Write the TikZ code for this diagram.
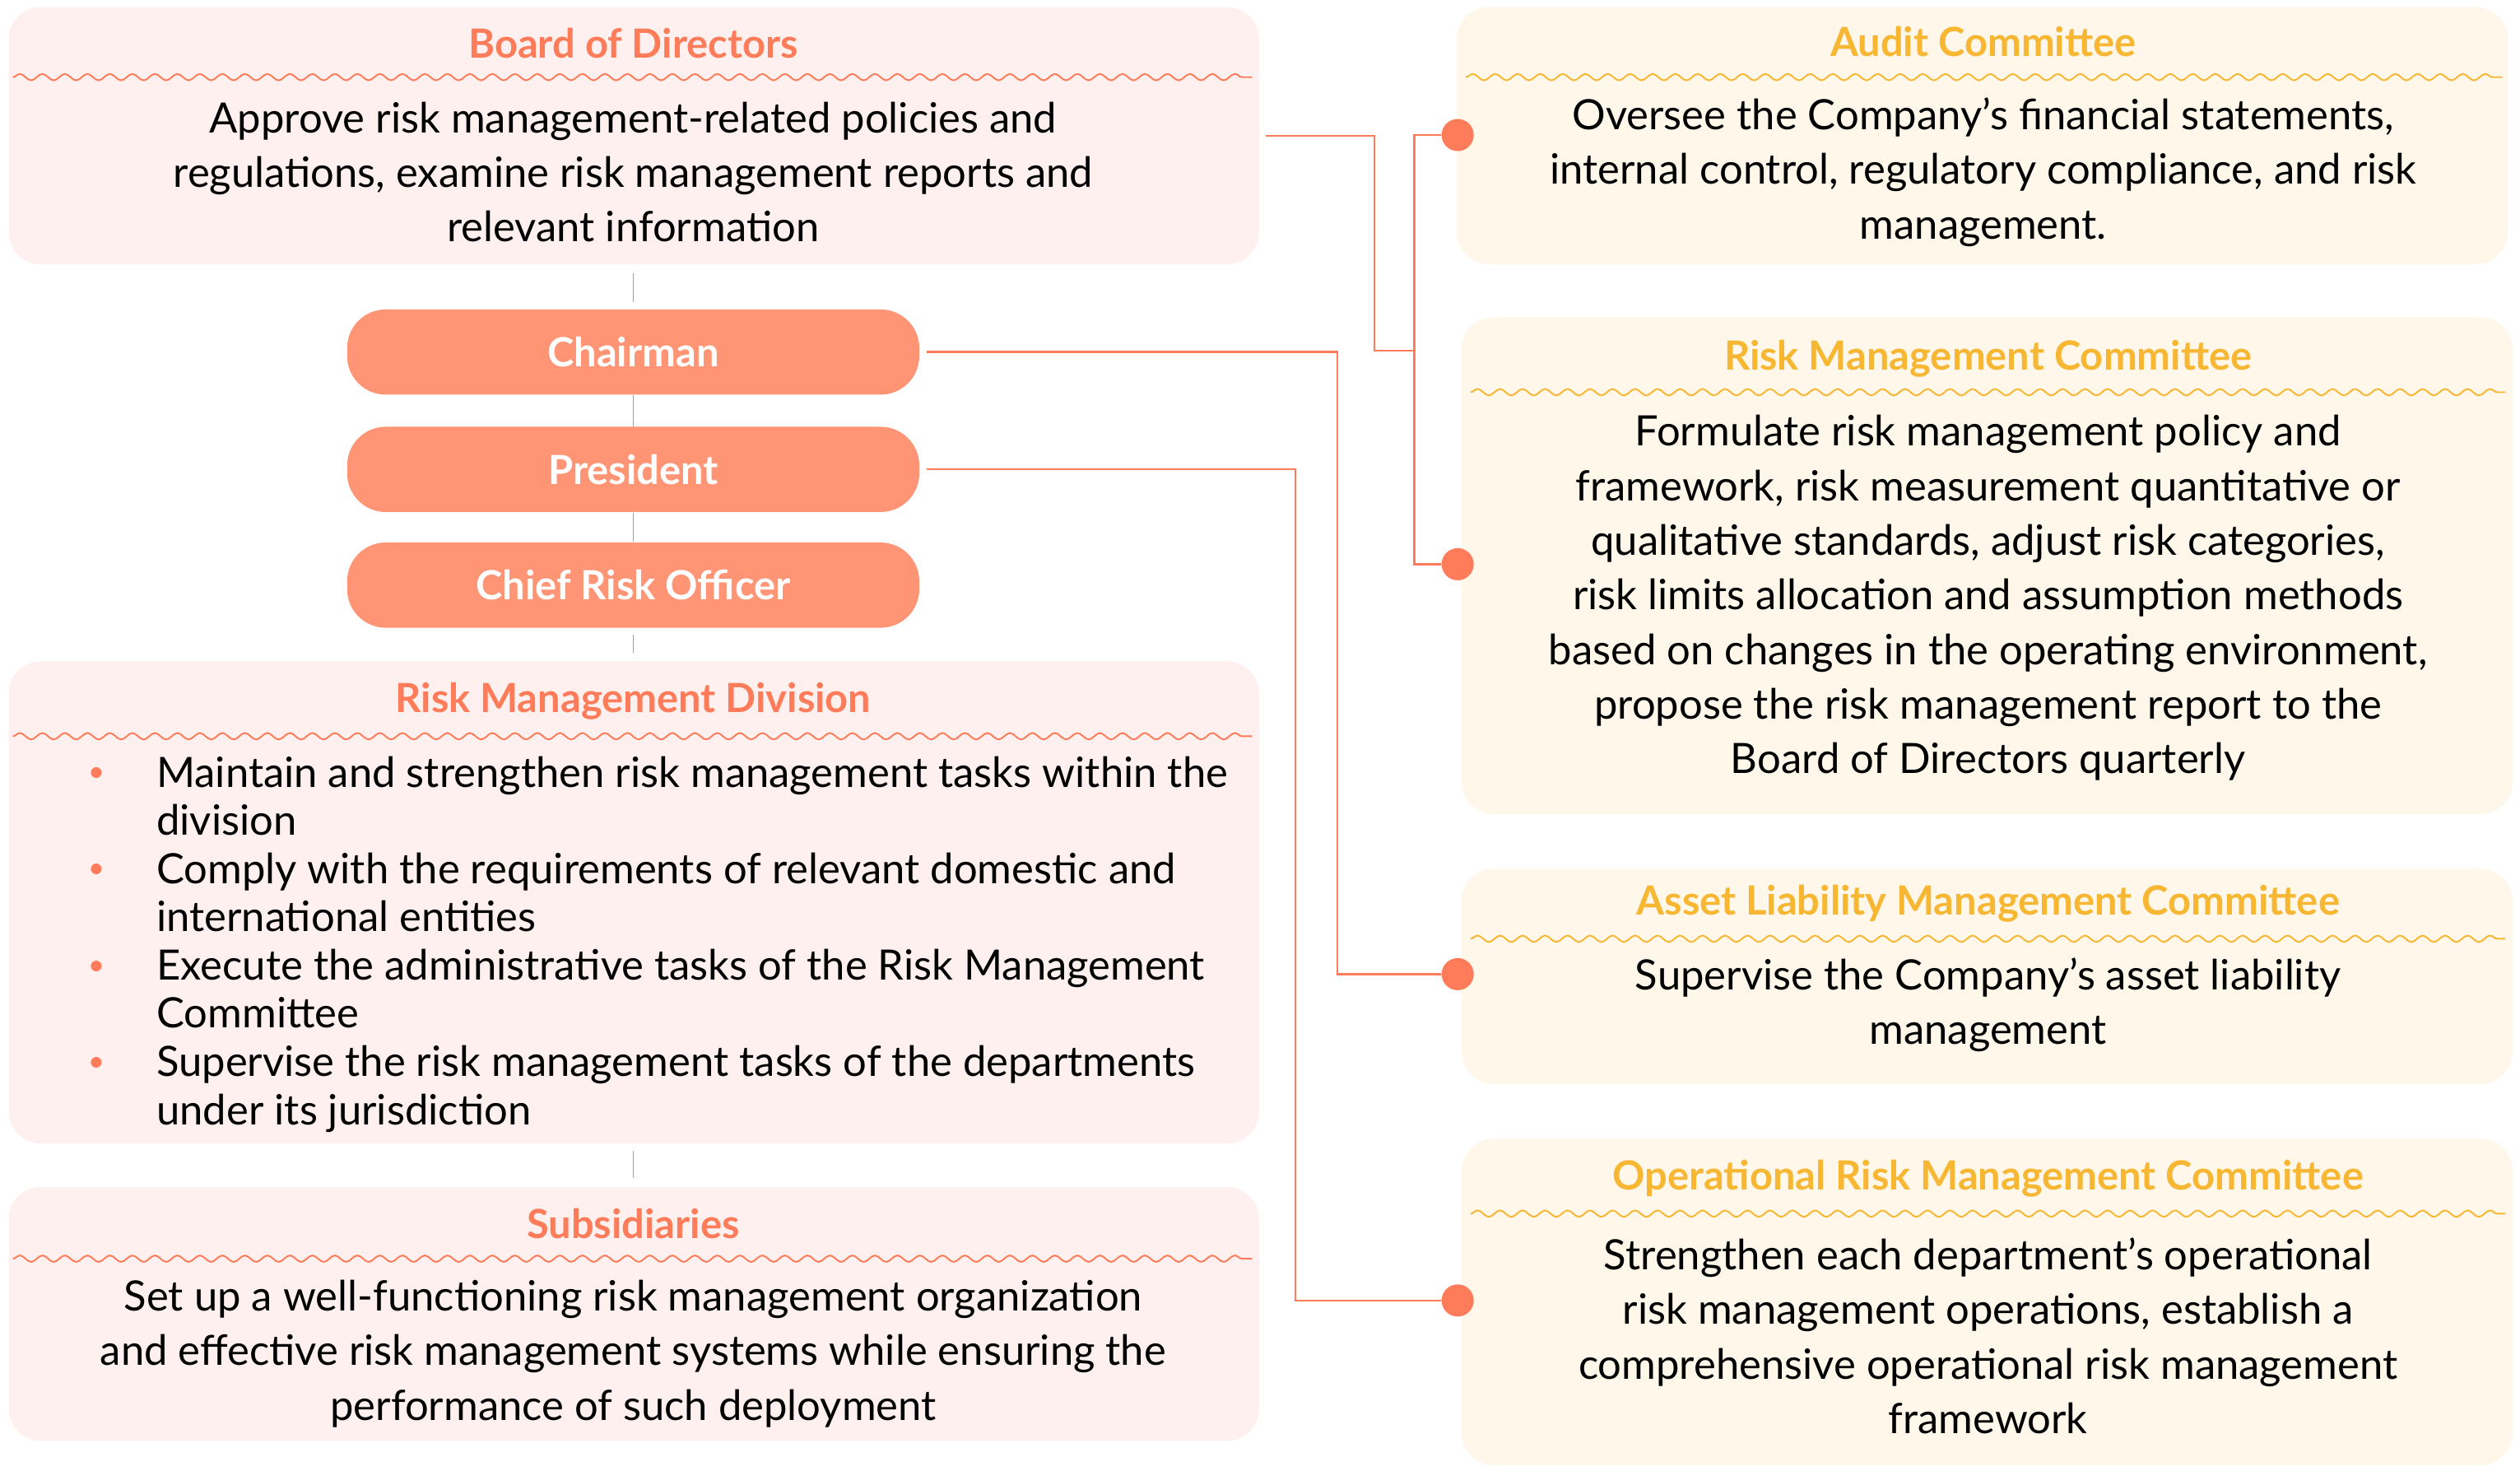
\documentclass[tikz,border=0pt]{standalone}
\usepackage{fontspec}
\setmainfont{Lato}
\usetikzlibrary{positioning,decorations.pathmorphing}

\definecolor{salmon}{HTML}{FF7C5A}
\definecolor{pill}{HTML}{FF9575}
\definecolor{pinkbg}{HTML}{FEF0EE}
\definecolor{creambg}{HTML}{FEF7EA}
\definecolor{gold}{HTML}{F7B733}

\tikzset{
  box/.style={rounded corners=10pt, draw=none, minimum width=389pt, anchor=north west, inner sep=0pt},
  leftbox/.style={box, fill=pinkbg},
  rightbox/.style={box, fill=creambg, minimum width=327pt},
  title/.style={font=\fontsize{12.5}{15}\selectfont\bfseries},
  body/.style={align=center, font=\fontsize{13}{17}\selectfont},
  wave/.style={decorate, decoration={snake, segment length=7pt, amplitude=1pt}, line width=0.5pt},
  role/.style={rounded corners=12pt, fill=pill, minimum width=178pt, minimum height=26.5pt,
    text=white, font=\fontsize{12.5}{15}\selectfont\bfseries},
  link/.style={salmon, line width=0.6pt},
  dot/.style={circle, fill=salmon, minimum size=10pt, inner sep=0pt},
  item/.style={anchor=north west, align=left, font=\fontsize{13}{15}\selectfont, inner sep=0pt}
}

\begin{document}
\begin{tikzpicture}[x=0.5pt,y=-0.5pt]
\useasboundingbox (0,0) rectangle (1568,915);

% left column
\node[leftbox, minimum height=80pt] (board) at (5,4) {};
\node[title, text=salmon] at (394,27) {Board of Directors};
\draw[wave, salmon] (8,48) -- (779,48);
\node[body] at (394,107) {Approve risk management-related policies and\\regulations, examine risk management reports and\\relevant information};

\node[role] (chair) at (394,219) {Chairman};
\node[role] (pres) at (394,292) {President};
\node[role] (cro) at (394,364) {Chief Risk Officer};

\node[leftbox, minimum height=150pt] (rmd) at (5,411) {};
\node[title, text=salmon] at (394,436) {Risk Management Division};
\draw[wave, salmon] (8,458) -- (779,458);
\foreach \y/\t in {470/{Maintain and strengthen risk management tasks within the\\division},
                   530/{Comply with the requirements of relevant domestic and\\international entities},
                   590/{Execute the administrative tasks of the Risk Management\\Committee},
                   650/{Supervise the risk management tasks of the departments\\under its jurisdiction}} {
  \node[salmon, font=\small] at (60,\y+12) {\textbullet};
  \node[item] at (97,\y) {\t};
}

\node[leftbox, minimum height=79pt] (sub) at (5,738) {};
\node[title, text=salmon] at (394,761) {Subsidiaries};
\draw[wave, salmon] (8,783) -- (779,783);
\node[body] at (394,842) {Set up a well-functioning risk management organization\\and effective risk management systems while ensuring the\\performance of such deployment};

% vertical links
\draw[link, line width=0.4pt] (394,170) -- (394,188);
\draw[link, line width=0.4pt] (chair) -- (pres);
\draw[link, line width=0.4pt] (pres) -- (cro);
\draw[link, line width=0.4pt] (394,395) -- (394,406);
\draw[link, line width=0.4pt] (394,716) -- (394,733);

% right column
\node[rightbox, minimum height=80pt] (audit) at (906,4) {};
\node[title, text=gold] at (1234,26) {Audit Committee};
\draw[wave, gold] (912,48) -- (1557,48);
\node[body] at (1234,107) {Oversee the Company's financial statements,\\internal control, regulatory compliance, and risk\\management.};

\node[rightbox, minimum height=154.5pt] (rmc) at (909,197) {};
\node[title, text=gold] at (1237,223) {Risk Management Committee};
\draw[wave, gold] (915,244) -- (1559,244);
\node[body] at (1237,372) {Formulate risk management policy and\\framework, risk measurement quantitative or\\qualitative standards, adjust risk categories,\\risk limits allocation and assumption methods\\based on changes in the operating environment,\\propose the risk management report to the\\Board of Directors quarterly};

\node[rightbox, minimum height=67pt] (alm) at (909,540) {};
\node[title, text=gold] at (1237,562) {Asset Liability Management Committee};
\draw[wave, gold] (915,584) -- (1559,584);
\node[body] at (1237,625) {Supervise the Company's asset liability\\management};

\node[rightbox, minimum height=101.5pt] (orm) at (909,708) {};
\node[title, text=gold] at (1237,733) {Operational Risk Management Committee};
\draw[wave, gold] (915,755) -- (1559,755);
\node[body] at (1237,831) {Strengthen each department's operational\\risk management operations, establish a\\comprehensive operational risk management\\framework};

% dots
\node[dot] (d1) at (907,84) {};
\node[dot] (d2) at (907,351) {};
\node[dot] (d3) at (907,606) {};
\node[dot] (d4) at (907,809) {};

% connectors
\coordinate (jn) at (880,218);
\draw[link] ([xshift=2pt]board.east) -| (855,218) -- (jn);
\draw[link] (d1) -| (jn) |- (d2);
\draw[link] ([xshift=2pt]chair.east) -| (832,606) -- (d3);
\draw[link] ([xshift=2pt]pres.east) -| (806,809) -- (d4);
\end{tikzpicture}
\end{document}
